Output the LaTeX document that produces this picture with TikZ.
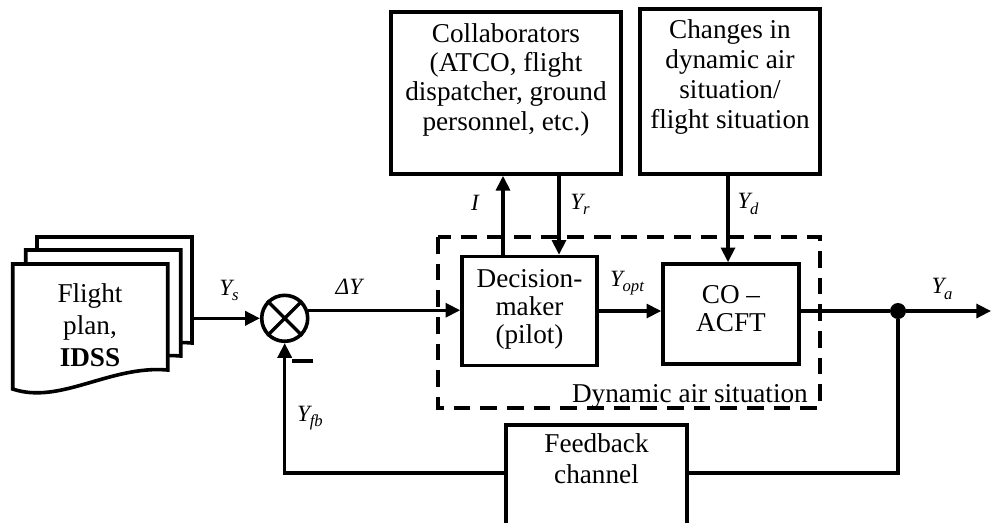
\documentclass[tikz,border=0pt]{standalone}
\usepackage{fontspec}
\setmainfont{Liberation Serif}
\usetikzlibrary{arrows.meta}
\newcommand{\Ysb}[1]{Y\kern-0.3pt\raisebox{-0.22em}{\fontsize{12.5}{12.5}\selectfont #1}}
\begin{document}
\begin{tikzpicture}[x=0.75pt,y=-0.75pt,
  box/.style={draw,line width=2.7pt,inner sep=0pt,fill=white},
  conn/.style={line width=2.4pt},
  arr/.style={conn,-{Triangle[length=11pt,width=10.5pt]}},
  txt/.style={font=\fontsize{20.4}{22.5}\selectfont,align=center,inner sep=0pt},
  lab/.style={font=\fontsize{17.5}{17.5}\selectfont\itshape,inner sep=0pt},
  dashbox/.style={draw,line width=2.7pt,dash pattern=on 12.5pt off 7.5pt},
  page/.style={draw,line width=2.7pt,fill=white,line join=miter}
]
\useasboundingbox (0,0) rectangle (991,522);
\clip (0,0) rectangle (991,522);

% flight plan pages
\foreach \dx/\dy in {24.3/-27, 13/-14, 0/0}{
  \draw[page,shift={(\dx,\dy)}] (12.7,389) -- (12.7,264) -- (167.7,264) -- (167.7,370)
     .. controls (110,365) and (60,405) .. (12.7,389) -- cycle;
}
\node[txt,font=\fontsize{20.4}{24}\selectfont] (fptext) at (90,325) {Flight\\plan,\\\textbf{IDSS}};
\coordinate (fpout) at (193,318.3);

% dashed region
\draw[dashbox] (438,237) rectangle (820,408);
\node[txt,anchor=base east] (dyn) at (808,402) {Dynamic air situation};

% boxes
\node[box,minimum width=172.5pt,minimum height=121.7pt] (collab) at (506,92.9) {};
\node[txt,font=\fontsize{20.4}{22}\selectfont] (collabtxt) at (506,79.5) {Collaborators\\(ATCO, flight\\dispatcher, ground\\personnel, etc.)};
\node[box,minimum width=135pt,minimum height=123.75pt] (chg) at (730,91.5) {};
\node[txt] (chgtxt) at (730,76.5) {Changes in\\dynamic air\\situation/\\flight situation};
\node[box,minimum width=101.25pt,minimum height=81.75pt] (dec) at (529.5,311) {};
\node[txt,font=\fontsize{20.4}{21}\selectfont] (dectxt) at (529.5,309.5) {Decision-\\maker\\(pilot)};
\node[box,minimum width=102pt,minimum height=75pt] (co) at (731,314) {};
\node[txt,font=\fontsize{20.4}{20.5}\selectfont] (cotxt) at (731,308.5) {CO –\\ACFT};
\node[box,minimum width=135.75pt,minimum height=90pt] (fb) at (596.5,485) {};
\node[txt,font=\fontsize{20.4}{23.25}\selectfont] (fbtxt) at (596.5,459) {Feedback\\channel};

% summing junction
\node[draw,circle,line width=2.7pt,minimum size=34.5pt,inner sep=0pt] (sum) at (284.7,318.3) {};
\draw[line width=2.5pt] (sum.45) -- (sum.225) (sum.135) -- (sum.315);
\node[inner sep=0pt] (minus) at (302.5,361) {\rule{15.75pt}{2.7pt}};

% junction dot
\node[circle,fill,inner sep=0pt,minimum size=12pt] (jn) at (898,311) {};
\coordinate (out) at (991,311);
\coordinate (fbl) at (0,473);
\coordinate (xI) at (503,0);
\coordinate (xR) at (559,0);
\coordinate (xD) at (728,0);

% connectors
\draw[arr] (fpout) -- (sum.west);
\draw[arr] (sum.19) -- (sum.19 -| dec.west);
\draw[arr] (dec.east) -- (dec.east -| co.west);
\draw[conn] (co.east |- jn) -- (jn);
\draw[arr] (jn) -- (out);
\draw[arr] (dec.north -| xI) -- (collab.south -| xI);
\draw[arr] (collab.south -| xR) -- (dec.north -| xR);
\draw[arr] (chg.south -| xD) -- (co.north -| xD);
\draw[conn] (jn) -- (jn |- fbl) -- (fb.east |- fbl);
\draw[arr] (fb.west |- fbl) -- (sum.south |- fbl) -- (sum.south);

% labels
\node[lab] (lYs) at (229,290) {\Ysb{s}};
\node[lab] (ldY) at (349,287) {ΔY};
\node[lab] (lI) at (475,203) {I};
\node[lab] (lYr) at (580,204) {\Ysb{r}};
\node[lab] (lYd) at (748,204) {\Ysb{d}};
\node[lab] (lYo) at (627,283) {\Ysb{opt}};
\node[lab] (lYa) at (942,289) {\Ysb{a}};
\node[lab] (lYf) at (310,418) {\Ysb{fb}};
\end{tikzpicture}
\end{document}
